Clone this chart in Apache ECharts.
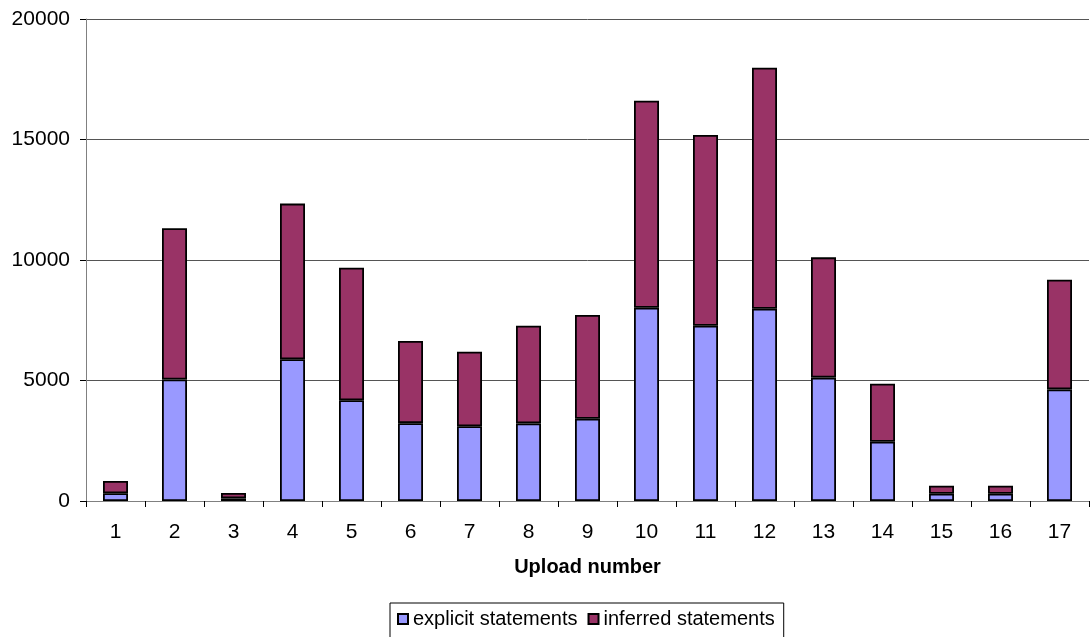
<!DOCTYPE html>
<html>
<head>
<meta charset="utf-8">
<script src="https://cdn.jsdelivr.net/npm/echarts@6/dist/echarts.min.js"></script>
<style>
html,body{margin:0;padding:0;background:#fff;}
#chart{width:1090px;height:637px;}
</style>
</head>
<body>
<div id="chart"></div>
<script>
const categories = ['1','2','3','4','5','6','7','8','9','10','11','12','13','14','15','16','17'];
const explicitStatements = [320, 5040, 110, 5880, 4180, 3230, 3100, 3220, 3410, 8020, 7270, 7980, 5120, 2460, 300, 300, 4630];
const inferredStatements = [510, 6280, 220, 6460, 5500, 3410, 3090, 4050, 4310, 8590, 7920, 10000, 4990, 2410, 330, 330, 4550];
const yTicks = [0, 5000, 10000, 15000, 20000];

const chart = echarts.init(document.getElementById('chart'), null, {renderer: 'canvas'});
const font = '"Liberation Sans", Arial, sans-serif';
chart.setOption({
  animation: false,
  backgroundColor: '#fff',
  grid: {left: 86, right: 1, top: 19, bottom: 136, containLabel: false},
  legend: {
    data: ['explicit statements', 'inferred statements'],
    left: 390, top: 603,
    orient: 'horizontal',
    borderColor: '#000', borderWidth: 1,
    padding: [6, 9, 12, 7],
    itemWidth: 10, itemHeight: 10, itemGap: 10,
    icon: 'rect',
    textStyle: {fontFamily: font, fontSize: 20, color: '#000', padding: [0, 0, 0, 0]}
  },
  xAxis: {
    type: 'category',
    data: categories,
    name: 'Upload number',
    nameLocation: 'middle',
    nameGap: 56,
    nameTextStyle: {fontFamily: font, fontSize: 20, fontWeight: 'bold', color: '#000'},
    axisLine: {lineStyle: {color: '#808080', width: 1}},
    axisTick: {show: true, length: 6, lineStyle: {color: '#000'}},
    axisLabel: {fontFamily: font, fontSize: 21, color: '#000', margin: 21}
  },
  yAxis: {
    type: 'value',
    min: yTicks[0], max: yTicks[yTicks.length - 1], interval: 5000,
    axisLine: {show: true, lineStyle: {color: '#808080', width: 1}},
    axisTick: {show: true, length: 6, lineStyle: {color: '#000'}},
    axisLabel: {fontFamily: font, fontSize: 21, color: '#000', margin: 16, formatter: v => String(v)},
    splitLine: {lineStyle: {color: '#555', width: 1}}
  },
  series: [
    {
      name: 'explicit statements', type: 'bar', stack: 'total',
      data: explicitStatements, barWidth: 25,
      itemStyle: {color: '#9999FF', borderColor: '#000', borderWidth: 1.8}
    },
    {
      name: 'inferred statements', type: 'bar', stack: 'total',
      data: inferredStatements, barWidth: 25,
      itemStyle: {color: '#993366', borderColor: '#000', borderWidth: 1.8}
    }
  ]
});
</script>
</body>
</html>
